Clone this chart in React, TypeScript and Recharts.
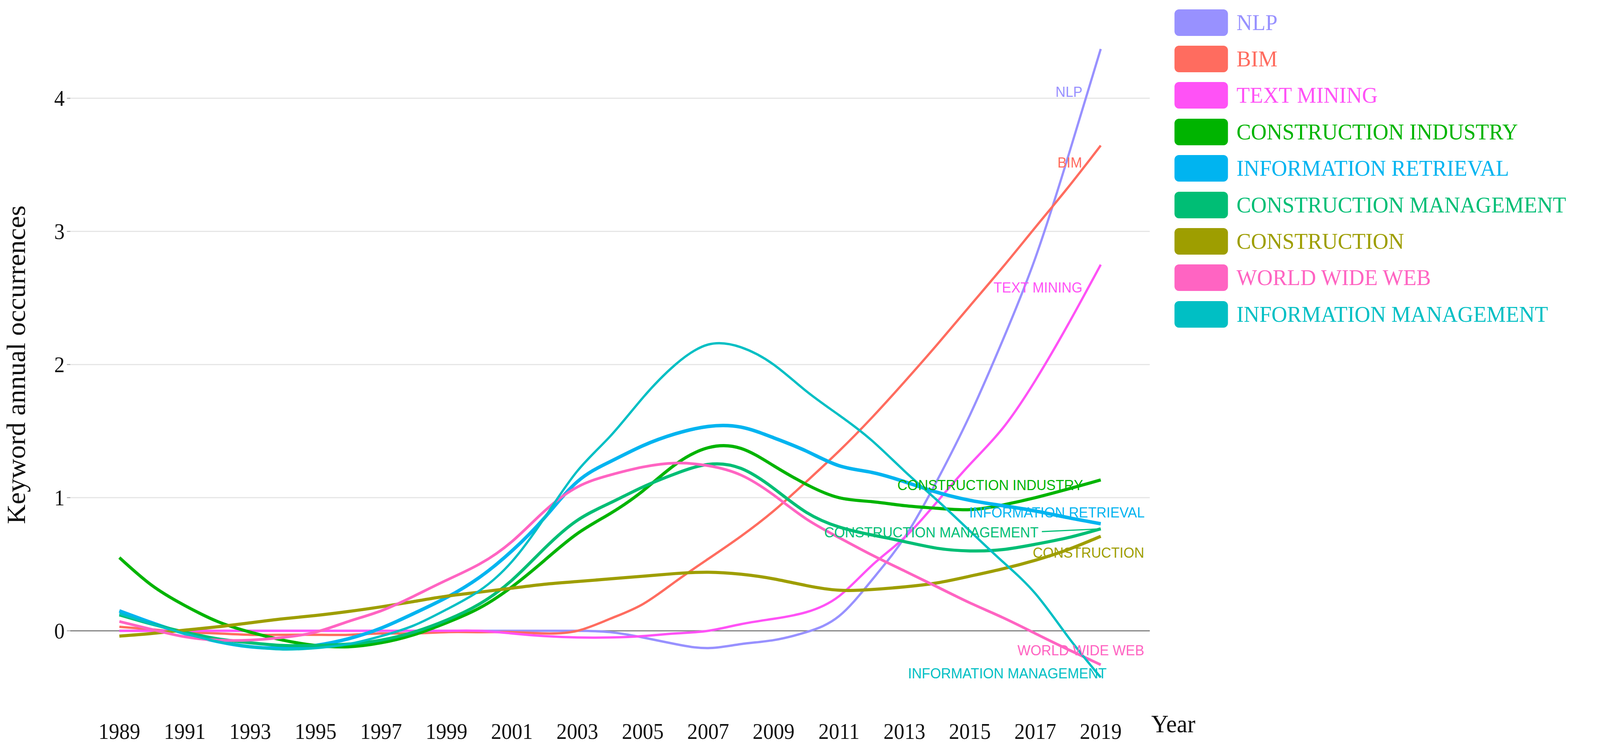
import React from "react";
import {
  LineChart,
  Line,
  XAxis,
  YAxis,
  ReferenceLine,
  ReferenceDot,
} from "recharts";

// Keyword occurrence trends (smoothed), 1989-2019

const years = [
  1989, 1990, 1991, 1992, 1993, 1994, 1995, 1996, 1997, 1998, 1999, 2000, 2001,
  2002, 2003, 2004, 2005, 2006, 2007, 2008, 2009, 2010, 2011, 2012, 2013, 2014,
  2015, 2016, 2017, 2018, 2019,
];

const xTicks = [
  1989, 1991, 1993, 1995, 1997, 1999, 2001, 2003, 2005, 2007, 2009, 2011, 2013,
  2015, 2017, 2019,
];
const yTicks = [0, 1, 2, 3, 4];
const gridValues = [1, 2, 3, 4];

const nlp = [
  0, 0, 0, 0, 0, 0, 0, 0, 0, 0, 0, 0, 0, 0, 0, -0.01, -0.05, -0.1, -0.13, -0.1,
  -0.07, -0.01, 0.11, 0.38, 0.7, 1.13, 1.62, 2.18, 2.8, 3.56, 4.37,
];
const bim = [
  0.03, 0.01, -0.01, -0.02, -0.03, -0.03, -0.03, -0.03, -0.02, -0.02, -0.01,
  -0.01, -0.01, -0.02, 0.0, 0.09, 0.2, 0.37, 0.54, 0.71, 0.9, 1.12, 1.35, 1.6,
  1.87, 2.15, 2.44, 2.73, 3.03, 3.33, 3.645,
];
const textMining = [
  0, 0, 0, 0, 0, 0, 0, 0, 0, 0, 0, 0, -0.02, -0.04, -0.05, -0.05, -0.04, -0.02,
  0.0, 0.05, 0.09, 0.14, 0.26, 0.49, 0.7, 0.97, 1.25, 1.52, 1.88, 2.3, 2.75,
];
const constructionIndustry = [
  0.55, 0.34, 0.19, 0.07, -0.01, -0.07, -0.11, -0.12, -0.09, -0.03, 0.06, 0.17,
  0.33, 0.53, 0.73, 0.88, 1.05, 1.25, 1.375, 1.37, 1.24, 1.1, 1.0, 0.97, 0.94,
  0.92, 0.91, 0.945, 1.0, 1.065, 1.133,
];
const informationRetrieval = [
  0.15, 0.06, -0.02, -0.08, -0.12, -0.13, -0.11, -0.06, 0.02, 0.13, 0.25, 0.4,
  0.6, 0.85, 1.12, 1.27, 1.39, 1.48, 1.535, 1.53, 1.45, 1.35, 1.24, 1.19, 1.12,
  1.04, 0.98, 0.94, 0.9, 0.85, 0.804,
];
const constructionManagement = [
  0.12, 0.05, -0.01, -0.06, -0.09, -0.11, -0.11, -0.1, -0.07, -0.01, 0.08, 0.2,
  0.38, 0.62, 0.83, 0.96, 1.08, 1.18, 1.25, 1.22, 1.07, 0.89, 0.78, 0.72, 0.67,
  0.62, 0.6, 0.61, 0.65, 0.7, 0.766,
];
const construction = [
  -0.04, -0.02, 0.005, 0.03, 0.06, 0.09, 0.115, 0.145, 0.18, 0.22, 0.26, 0.29,
  0.32, 0.35, 0.37, 0.39, 0.41, 0.43, 0.44, 0.425, 0.39, 0.34, 0.305, 0.31,
  0.33, 0.36, 0.41, 0.465, 0.53, 0.61, 0.71,
];
const worldWideWeb = [
  0.07, 0.01, -0.045, -0.07, -0.07, -0.05, -0.01, 0.07, 0.15, 0.26, 0.38, 0.5,
  0.67, 0.9, 1.08, 1.17, 1.23, 1.26, 1.24, 1.17, 1.02, 0.84, 0.7, 0.57, 0.45,
  0.33, 0.21, 0.1, -0.02, -0.14, -0.255,
];
const informationManagement = [
  0.13, 0.05, -0.02, -0.08, -0.12, -0.14, -0.13, -0.1, -0.04, 0.04, 0.16, 0.3,
  0.52, 0.85, 1.2, 1.46, 1.75, 2.0, 2.15, 2.13, 2.0, 1.8, 1.62, 1.43, 1.2, 0.98,
  0.75, 0.52, 0.28, -0.045, -0.35,
];

const series = [
  { name: "NLP", values: nlp, color: "#9891FF", width: 6 },
  { name: "BIM", values: bim, color: "#FF6C5F", width: 6 },
  { name: "TEXT MINING", values: textMining, color: "#FF52F6", width: 6 },
  { name: "CONSTRUCTION INDUSTRY", values: constructionIndustry, color: "#00B400", width: 8 },
  { name: "INFORMATION RETRIEVAL", values: informationRetrieval, color: "#00B4F0", width: 9 },
  { name: "CONSTRUCTION MANAGEMENT", values: constructionManagement, color: "#00BE75", width: 8 },
  { name: "CONSTRUCTION", values: construction, color: "#9E9E00", width: 8 },
  { name: "WORLD WIDE WEB", values: worldWideWeb, color: "#FF64C2", width: 7 },
  { name: "INFORMATION MANAGEMENT", values: informationManagement, color: "#00BFC4", width: 6 },
];

// end-of-line text labels, anchored at their right edge (data coordinates)
const endLabels = [
  { name: "NLP", x: 2018.44, y: 4.05 },
  { name: "BIM", x: 2018.43, y: 3.52 },
  { name: "TEXT MINING", x: 2018.44, y: 2.58 },
  { name: "CONSTRUCTION INDUSTRY", x: 2018.46, y: 1.095 },
  { name: "INFORMATION RETRIEVAL", x: 2020.34, y: 0.889 },
  { name: "CONSTRUCTION MANAGEMENT", x: 2017.1, y: 0.74 },
  { name: "CONSTRUCTION", x: 2020.33, y: 0.587 },
  { name: "WORLD WIDE WEB", x: 2020.33, y: -0.144 },
  { name: "INFORMATION MANAGEMENT", x: 2019.18, y: -0.317 },
];

const SERIF = "'Liberation Serif', 'Times New Roman', serif";
const SANS = "'Liberation Sans', Arial, sans-serif";
const W = 4279;
const H = 1923;

const chartData = years.map((year, i) => {
  const row: Record<string, number> = { year };
  series.forEach((s) => {
    row[s.name] = s.values[i];
  });
  return row;
});

const colorOf = (name: string) => series.find((s) => s.name === name)?.color ?? "#000";

function LegendBox() {
  return (
    <div
      style={{
        position: "absolute",
        left: 3141,
        top: 11,
        fontFamily: SERIF,
      }}
    >
      {series.map((s) => (
        <div
          key={s.name}
          style={{ display: "flex", alignItems: "center", height: 93.4 }}
        >
          <div
            style={{
              width: 143,
              height: 68,
              borderRadius: 12,
              background: s.color,
              flexShrink: 0,
            }}
          />
          <div
            style={{
              marginLeft: 23,
              fontSize: 58,
              lineHeight: 1,
              color: s.color,
              whiteSpace: "nowrap",
            }}
          >
            {s.name}
          </div>
        </div>
      ))}
    </div>
  );
}

export default function App() {
  // fit the fixed 4279x1923 layout into whatever viewport we actually get
  if (typeof document !== "undefined") {
    document.documentElement.style.overflow = "hidden";
    document.body.style.overflow = "hidden";
    document.body.style.margin = "0";
  }
  const vw = typeof document !== "undefined" ? document.documentElement.clientWidth || W : W;
  const vh = typeof document !== "undefined" ? document.documentElement.clientHeight || H : H;
  const sx = vw / W;
  const sy = vh / H;

  return (
    <div
      style={{
        position: "fixed",
        left: 0,
        top: 0,
        width: W,
        height: H,
        background: "#ffffff",
        fontFamily: SERIF,
        transform: `scale(${sx}, ${sy})`,
        transformOrigin: "0 0",
      }}
    >
      <LineChart
        width={W}
        height={H}
        data={chartData}
        margin={{ top: 45, right: 1204, bottom: 0, left: 0 }}
      >
        <XAxis
          dataKey="year"
          type="number"
          domain={[1987.5, 2020.5]}
          ticks={xTicks}
          interval={0}
          height={108}
          axisLine={false}
          tickLine={false}
          tickSize={6}
          tickMargin={31}
          tick={{ fontFamily: SERIF, fontSize: 56, fill: "#111" }}
          label={{
            content: (props: any) => {
              const vb = props.viewBox || {};
              return (
                <text
                  x={vb.x + vb.width + 4}
                  y={vb.y + 60}
                  fontFamily={SERIF}
                  fontSize={64}
                  fill="#111"
                  textAnchor="start"
                >
                  Year
                </text>
              );
            },
          }}
        />
        <YAxis
          type="number"
          domain={[-0.586, 4.606]}
          ticks={yTicks}
          width={188}
          axisLine={false}
          tickLine={{ stroke: "#999", strokeWidth: 2 }}
          tickSize={9}
          tickMargin={6}
          tick={{ fontFamily: SERIF, fontSize: 56, fill: "#111" }}
          label={{
            content: (props: any) => {
              const vb = props.viewBox || {};
              const cx = 67;
              const cy = vb.y + vb.height / 2 + 4;
              return (
                <text
                  x={cx}
                  y={cy}
                  transform={`rotate(-90, ${cx}, ${cy})`}
                  fontFamily={SERIF}
                  fontSize={70}
                  fill="#111"
                  textAnchor="middle"
                >
                  Keyword annual occurrences
                </text>
              );
            },
          }}
        />
        {gridValues.map((v) => (
          <ReferenceLine key={`grid-${v}`} y={v} stroke="#e6e6e6" strokeWidth={3} />
        ))}
        <ReferenceLine y={0} stroke="#808080" strokeWidth={3} />
        {series.map((s) => (
          <Line
            key={s.name}
            type="natural"
            dataKey={s.name}
            stroke={s.color}
            strokeWidth={s.width}
            dot={false}
            activeDot={false}
            isAnimationActive={false}
          />
        ))}
        <ReferenceLine
          segment={[
            { x: 2017.2, y: 0.745 },
            { x: 2019, y: 0.766 },
          ]}
          stroke={colorOf("CONSTRUCTION MANAGEMENT")}
          strokeWidth={3}
          ifOverflow="visible"
        />
        {endLabels.map((l) => (
          <ReferenceDot
            key={l.name}
            x={l.x}
            y={l.y}
            r={0}
            ifOverflow="visible"
            shape={(p: any) => (
              <text
                x={p.cx}
                y={p.cy}
                dy="0.36em"
                textAnchor="end"
                fontFamily={SANS}
                fontSize={37}
                fill={colorOf(l.name)}
              >
                {l.name}
              </text>
            )}
          />
        ))}
      </LineChart>
      <LegendBox />
    </div>
  );
}
